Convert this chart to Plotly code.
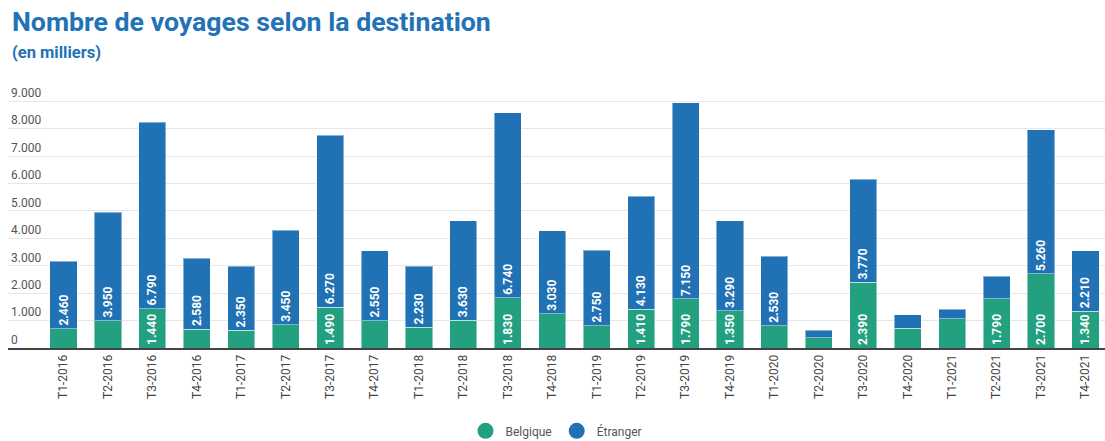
import plotly.graph_objects as go

periodes = [
    "T1-2016", "T2-2016", "T3-2016", "T4-2016",
    "T1-2017", "T2-2017", "T3-2017", "T4-2017",
    "T1-2018", "T2-2018", "T3-2018", "T4-2018",
    "T1-2019", "T2-2019", "T3-2019", "T4-2019",
    "T1-2020", "T2-2020", "T3-2020", "T4-2020",
    "T1-2021", "T2-2021", "T3-2021", "T4-2021",
]

# Voyages en milliers
belgique = [710, 1000, 1440, 690, 640, 850, 1490, 1000,
            750, 1010, 1830, 1250, 820, 1410, 1790, 1350,
            810, 380, 2390, 720, 1070, 1790, 2700, 1340]
etranger = [2460, 3950, 6790, 2580, 2350, 3450, 6270, 2550,
            2230, 3630, 6740, 3030, 2750, 4130, 7150, 3290,
            2530, 270, 3770, 500, 340, 830, 5260, 2210]

# Étiquettes affichées uniquement dans les segments assez hauts
seuil_label = 1300
seuil_label_etr = 1000

VERT = "#23a07f"
BLEU = "#2172b5"


def fmt(v):
    return f"{v:,}".replace(",", ".")


txt_bel = [fmt(v) if v >= seuil_label else "" for v in belgique]
txt_etr = [fmt(v) if v >= seuil_label_etr else "" for v in etranger]

label_font = dict(color="white", size=12, family="Roboto", weight="bold")

fig = go.Figure()

fig.add_trace(go.Bar(
    x=periodes, y=belgique, name="Belgique",
    marker=dict(color=VERT, line=dict(color="rgba(255,255,255,0.45)", width=1)),
    text=txt_bel, textposition="inside", insidetextanchor="start",
    textangle=-90, textfont=label_font,
    showlegend=False, hoverinfo="x+y",
))
fig.add_trace(go.Bar(
    x=periodes, y=etranger, name="Étranger",
    marker=dict(color=BLEU, line=dict(color="rgba(255,255,255,0.45)", width=1)),
    text=txt_etr, textposition="inside", insidetextanchor="start",
    textangle=-90, textfont=label_font,
    showlegend=False, hoverinfo="x+y",
))

# Légende avec pastilles rondes
for nom, couleur in [("Belgique", VERT), ("Étranger", BLEU)]:
    fig.add_trace(go.Scatter(
        x=[None], y=[None], mode="markers", name=nom,
        marker=dict(symbol="circle", size=16, color=couleur),
        hoverinfo="skip",
    ))

fig.update_layout(
    width=1105, height=441,
    margin=dict(l=8, r=0, t=82, b=93, autoexpand=False),
    paper_bgcolor="white", plot_bgcolor="white",
    barmode="stack", bargap=0.39,
    separators=",.",
    font=dict(family="Roboto", color="#555555", size=12),
    annotations=[
        dict(text="<b>Nombre de voyages selon la destination</b>",
             xref="paper", yref="paper", x=0, y=1, xanchor="left", yanchor="top",
             xshift=2, yshift=78, showarrow=False,
             font=dict(family="Roboto", size=26.7, color="#2272b6")),
        dict(text="<b>(en milliers)</b>",
             xref="paper", yref="paper", x=0, y=1, xanchor="left", yanchor="top",
             xshift=2, yshift=41, showarrow=False,
             font=dict(family="Roboto", size=16.5, color="#2272b6")),
    ],
    legend=dict(orientation="h", x=0.5, xanchor="center",
                yref="container", y=0.023, yanchor="middle",
                font=dict(size=12, color="#555555"), itemsizing="trace",
                traceorder="normal"),
)

fig.update_xaxes(
    type="category", range=[-1.25, 23.44], automargin=False,
    tickangle=-90, tickfont=dict(size=12, color="#444444"),
    showline=True, linecolor="#444444", linewidth=2,
    showgrid=False, ticks="", fixedrange=True,
)
fig.update_yaxes(
    range=[0, 9700], tickvals=list(range(0, 9001, 1000)), tickformat=",d",
    ticklabelposition="inside top", automargin=False,
    tickfont=dict(size=12, color="#555555"),
    showgrid=True, gridcolor="#e6e6e6", gridwidth=1,
    zeroline=False, showline=False, ticks="", fixedrange=True,
)

fig.write_html("out.html")
